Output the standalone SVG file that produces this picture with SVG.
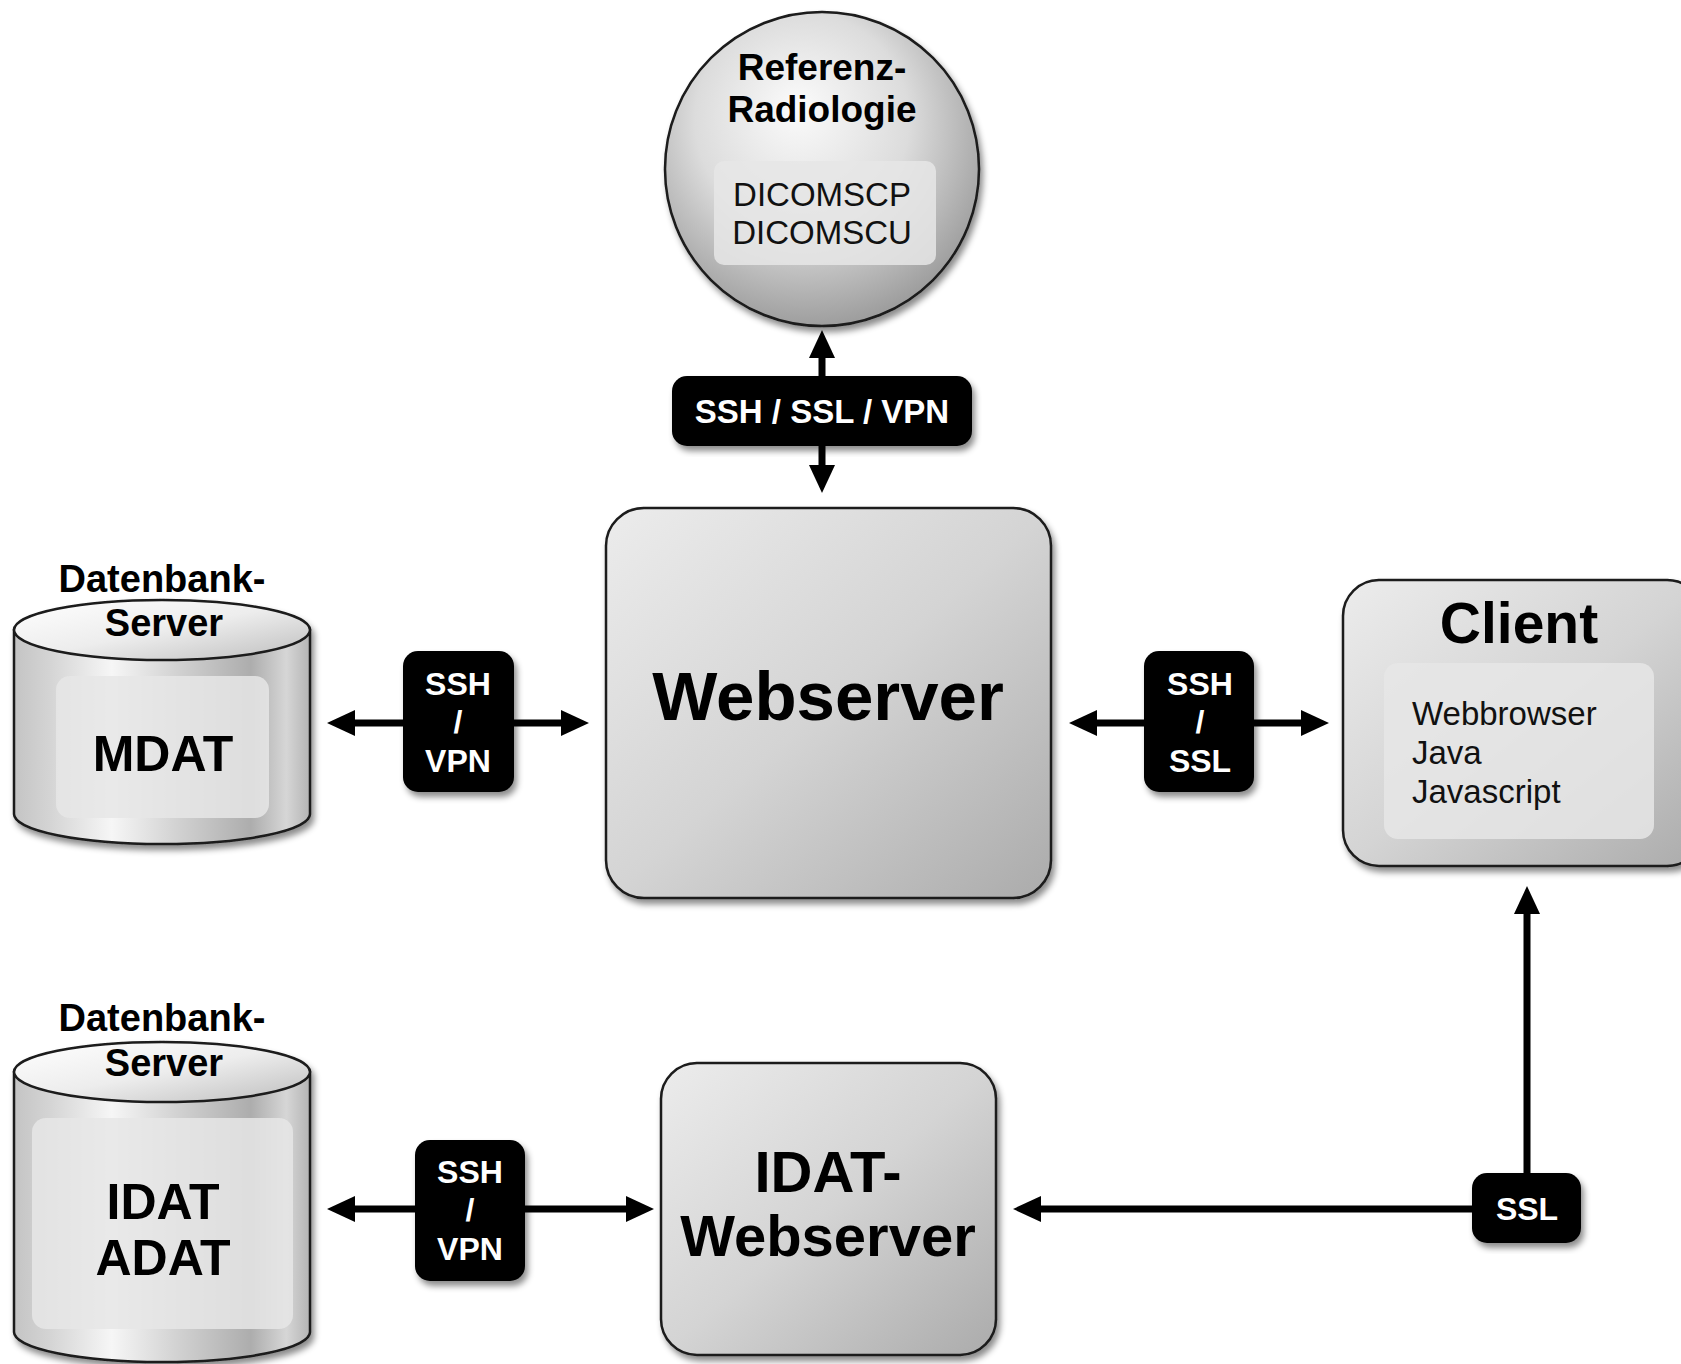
<svg xmlns="http://www.w3.org/2000/svg" width="1681" height="1364" viewBox="0 0 1681 1364">
<defs>
  <linearGradient id="boxGrad" x1="0" y1="0" x2="1" y2="1">
    <stop offset="0" stop-color="#ececec"/>
    <stop offset="0.5" stop-color="#d4d4d4"/>
    <stop offset="1" stop-color="#ababab"/>
  </linearGradient>
  <radialGradient id="circGrad" cx="0.45" cy="0.38" r="0.62" fx="0.42" fy="0.3">
    <stop offset="0" stop-color="#fbfbfb"/>
    <stop offset="0.55" stop-color="#dcdcdc"/>
    <stop offset="1" stop-color="#9e9e9e"/>
  </radialGradient>
  <linearGradient id="cylBody" x1="0" y1="0" x2="1" y2="0">
    <stop offset="0" stop-color="#c4c4c4"/>
    <stop offset="0.12" stop-color="#d4d4d4"/>
    <stop offset="0.33" stop-color="#f6f6f6"/>
    <stop offset="0.55" stop-color="#d2d2d2"/>
    <stop offset="0.8" stop-color="#adadad"/>
    <stop offset="0.92" stop-color="#d6d6d6"/>
    <stop offset="1" stop-color="#b4b4b4"/>
  </linearGradient>
  <linearGradient id="cylTop" x1="0" y1="0" x2="1" y2="1">
    <stop offset="0" stop-color="#ffffff"/>
    <stop offset="0.5" stop-color="#ededed"/>
    <stop offset="1" stop-color="#bdbdbd"/>
  </linearGradient>
  <filter id="shadow" x="-10%" y="-10%" width="125%" height="125%">
    <feDropShadow dx="3" dy="5" stdDeviation="3" flood-color="#000" flood-opacity="0.45"/>
  </filter>
  <marker id="arrow" viewBox="0 0 28 26" markerWidth="28" markerHeight="26" refX="8" refY="13" orient="auto-start-reverse" markerUnits="userSpaceOnUse">
    <path d="M0,0 L28,13 L0,26 Z" fill="#000"/>
  </marker>
  <style>
    .box { fill: url(#boxGrad); stroke: #1a1a1a; stroke-width: 2.5; filter: url(#shadow); }
    .inner { fill: #e6e6e6; fill-opacity: 0.85; }
    .cylbody { fill: url(#cylBody); stroke: #1a1a1a; stroke-width: 2.5; }
    .cyltop { fill: url(#cylTop); stroke: #1a1a1a; stroke-width: 2.5; }
    .label { fill: #000; filter: url(#shadow); }
    .conn { fill: none; stroke: #000; stroke-width: 7; }
    .b { font-family: "Liberation Sans", Arial, Helvetica, sans-serif; font-weight: bold; text-anchor: middle; fill: #000; }
    .r { font-family: "Liberation Sans", Arial, Helvetica, sans-serif; fill: #111; }
    .w { font-family: "Liberation Sans", Arial, Helvetica, sans-serif; font-weight: bold; text-anchor: middle; fill: #fff; }
  </style>
</defs>
<rect width="1681" height="1364" fill="#fff"/>

<g id="connectors">
  <path class="conn" d="M822,350 L822,473" marker-start="url(#arrow)" marker-end="url(#arrow)"/>
  <path class="conn" d="M347,723 L569,723" marker-start="url(#arrow)" marker-end="url(#arrow)"/>
  <path class="conn" d="M1089,723 L1309,723" marker-start="url(#arrow)" marker-end="url(#arrow)"/>
  <path class="conn" d="M347,1209 L634,1209" marker-start="url(#arrow)" marker-end="url(#arrow)"/>
  <path class="conn" d="M1500,1209 L1033,1209" marker-end="url(#arrow)"/>
  <path class="conn" d="M1527,1190 L1527,906" marker-end="url(#arrow)"/>
</g>

<g id="referenz-radiologie">
  <circle cx="822" cy="169" r="157" fill="url(#circGrad)" stroke="#1a1a1a" stroke-width="2.5" filter="url(#shadow)"/>
  <rect class="inner" x="714" y="161" width="222" height="104" rx="10"/>
  <text class="b" x="822" y="80" font-size="37">Referenz-</text>
  <text class="b" x="822" y="122" font-size="37">Radiologie</text>
  <text class="r" x="822" y="206" font-size="33" text-anchor="middle">DICOMSCP</text>
  <text class="r" x="822" y="244" font-size="33" text-anchor="middle">DICOMSCU</text>
</g>

<g id="label-top">
  <rect class="label" x="672" y="376" width="300" height="70" rx="15"/>
  <text class="w" x="822" y="423" font-size="33">SSH / SSL / VPN</text>
</g>

<g id="webserver">
  <rect class="box" x="606" y="508" width="445" height="390" rx="38"/>
  <text class="b" x="828" y="720" font-size="69">Webserver</text>
</g>

<g id="db-mdat">
  <g filter="url(#shadow)">
    <path class="cylbody" d="M14,630 L14,814 A148,30 0 0 0 310,814 L310,630 Z"/>
    <ellipse class="cyltop" cx="162" cy="630" rx="148" ry="30"/>
  </g>
  <rect class="inner" x="56" y="676" width="213" height="142" rx="14"/>
  <text class="b" x="162" y="592" font-size="38">Datenbank-</text>
  <text class="b" x="164" y="636" font-size="38">Server</text>
  <text class="b" x="163" y="771" font-size="50">MDAT</text>
</g>

<g id="label-left-top">
  <rect class="label" x="403" y="651" width="111" height="141" rx="15"/>
  <text class="w" x="458" y="695" font-size="32">SSH</text>
  <text class="w" x="458" y="733" font-size="32">/</text>
  <text class="w" x="458" y="772" font-size="32">VPN</text>
</g>

<g id="label-right-top">
  <rect class="label" x="1144" y="651" width="110" height="141" rx="15"/>
  <text class="w" x="1200" y="695" font-size="32">SSH</text>
  <text class="w" x="1200" y="733" font-size="32">/</text>
  <text class="w" x="1200" y="772" font-size="32">SSL</text>
</g>

<g id="client">
  <rect class="box" x="1343" y="580" width="360" height="286" rx="36"/>
  <rect class="inner" x="1384" y="663" width="270" height="176" rx="14"/>
  <text class="b" x="1519" y="643" font-size="57">Client</text>
  <text class="r" x="1412" y="725" font-size="33">Webbrowser</text>
  <text class="r" x="1412" y="764" font-size="33">Java</text>
  <text class="r" x="1412" y="803" font-size="33">Javascript</text>
</g>

<g id="db-idat">
  <g filter="url(#shadow)">
    <path class="cylbody" d="M14,1072 L14,1332 A148,30 0 0 0 310,1332 L310,1072 Z"/>
    <ellipse class="cyltop" cx="162" cy="1072" rx="148" ry="30"/>
  </g>
  <rect class="inner" x="32" y="1118" width="261" height="211" rx="14"/>
  <text class="b" x="162" y="1031" font-size="38">Datenbank-</text>
  <text class="b" x="164" y="1076" font-size="38">Server</text>
  <text class="b" x="163" y="1219" font-size="50">IDAT</text>
  <text class="b" x="163" y="1275" font-size="50">ADAT</text>
</g>

<g id="label-left-bottom">
  <rect class="label" x="415" y="1140" width="110" height="141" rx="15"/>
  <text class="w" x="470" y="1183" font-size="32">SSH</text>
  <text class="w" x="470" y="1221" font-size="32">/</text>
  <text class="w" x="470" y="1260" font-size="32">VPN</text>
</g>

<g id="idat-webserver">
  <rect class="box" x="661" y="1063" width="335" height="292" rx="36"/>
  <text class="b" x="828" y="1192" font-size="58">IDAT-</text>
  <text class="b" x="828" y="1256" font-size="58">Webserver</text>
</g>

<g id="label-ssl">
  <rect class="label" x="1472" y="1173" width="109" height="70" rx="15"/>
  <text class="w" x="1527" y="1220" font-size="32">SSL</text>
</g>
</svg>
